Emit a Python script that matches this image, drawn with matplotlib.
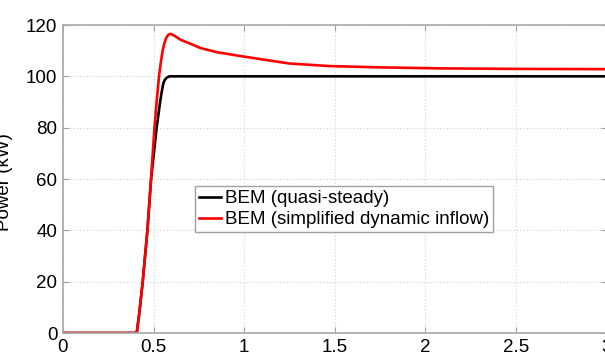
import numpy as np
import matplotlib.pyplot as plt

plt.rcParams['font.family'] = ['Liberation Sans', 'DejaVu Sans']

# BEM (quasi-steady)
t_qs = [0.0, 0.40, 0.407, 0.42, 0.44, 0.466, 0.486, 0.517, 0.536, 0.545,
        0.553, 0.56, 0.57, 0.58, 0.59, 3.0]
p_qs = [0.0, 0.0, 0.0, 7.0, 20.0, 40.0, 60.0, 80.0, 90.0, 94.0,
        97.0, 98.4, 99.3, 99.8, 100.0, 100.0]

# BEM (simplified dynamic inflow)
t_dyn = [0.0, 0.40, 0.407, 0.42, 0.44, 0.466, 0.486, 0.505, 0.518, 0.53,
         0.54, 0.55, 0.56, 0.57, 0.58, 0.59, 0.60, 0.62, 0.65, 0.70, 0.76,
         0.85, 0.98, 1.09, 1.25, 1.47, 1.75, 2.08, 2.5, 3.0]
p_dyn = [0.0, 0.0, 0.0, 7.0, 20.0, 40.0, 60.0, 80.0, 91.0, 100.0,
         105.5, 110.0, 113.0, 115.0, 116.1, 116.5, 116.4, 115.6, 114.2, 112.8, 111.0,
         109.4, 107.9, 106.7, 105.0, 104.0, 103.5, 103.1, 102.9, 102.8]

xticks = [0, 0.5, 1, 1.5, 2, 2.5, 3]
xtick_labels = ['0', '0.5', '1', '1.5', '2', '2.5', '3']
yticks = [0, 20, 40, 60, 80, 100, 120]

fig = plt.figure(figsize=(6.05, 3.56), dpi=100)
ax = fig.add_axes([63/605, 23/356, 543.5/605, 308/356])

ax.plot(t_qs, p_qs, color='black', lw=1.9, label='BEM (quasi-steady)')
ax.plot(t_dyn, p_dyn, color='red', lw=1.9, label='BEM (simplified dynamic inflow)')

ax.set_xlim(0, 3)
ax.set_ylim(0, 120)
ax.set_xticks(xticks)
ax.set_xticklabels(xtick_labels)
ax.set_yticks(yticks)

ax.grid(True, linestyle=(0, (1, 2)), color='#d0d0d0', lw=0.8)
for s in ax.spines.values():
    s.set_color('#a8a8a8')
    s.set_linewidth(1.2)
ax.tick_params(direction='in', length=4, color='#a0a0a0', labelsize=13.5,
               top=True, right=True, pad=4)

ax.set_ylabel('Power (kW)', fontsize=13.5)
ax.yaxis.set_label_coords(-0.092, 0.49)

leg = ax.legend(loc='lower left', bbox_to_anchor=(0.243, 0.328),
                borderaxespad=0, fontsize=13.5, fancybox=False,
                framealpha=1, edgecolor='#a0a0a0', borderpad=0.2,
                labelspacing=0.2, handlelength=1.2, handletextpad=0.2)
leg.get_frame().set_linewidth(1.0)

fig.savefig('out.png', dpi=100)
